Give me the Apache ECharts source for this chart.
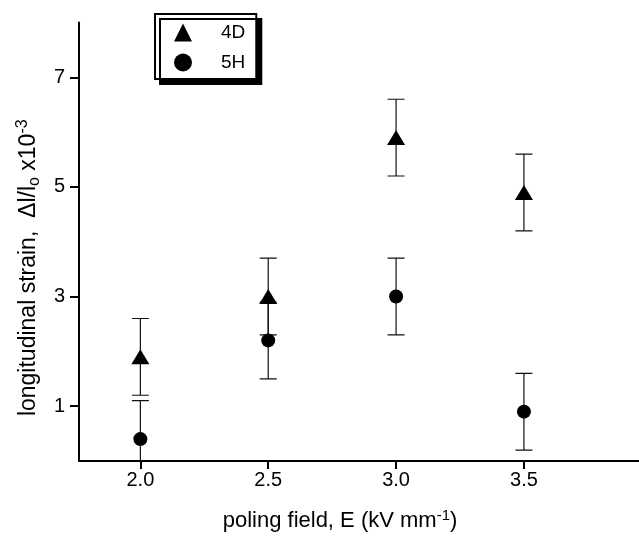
<!DOCTYPE html>
<html>
<head>
<meta charset="utf-8">
<script src="https://cdn.jsdelivr.net/npm/echarts@6/dist/echarts.min.js"></script>
<style>html,body{margin:0;padding:0;background:#fff}#c{width:639px;height:537px}</style>
</head>
<body>
<div id="c"></div>
<script>
const fields = [2.0, 2.5, 3.0, 3.5];
const strain4D = [1.9, 3.0, 5.9, 4.9];
const err4D = [0.7, 0.7, 0.7, 0.7];
const strain5H = [0.4, 2.2, 3.0, 0.9];
const err5H = [0.7, 0.7, 0.7, 0.7];
const xTicks = [2.0, 2.5, 3.0, 3.5];
const yTicks = [1, 3, 5, 7];

const FONT = 'Liberation Sans';
const chart = echarts.init(document.getElementById('c'), null, {renderer: 'canvas'});

function pts(vals) { return fields.map((x, i) => [x, vals[i]]); }
function bars(vals, errs) { return fields.map((x, i) => [x, vals[i] - errs[i], vals[i] + errs[i]]); }

function errRender(params, api) {
  const x = api.value(0), lo = api.value(1), hi = api.value(2);
  const p1 = api.coord([x, hi]), p2 = api.coord([x, lo]);
  const w = 8.5;
  const st = {stroke: '#111', lineWidth: 1.2};
  return {
    type: 'group',
    children: [
      {type: 'line', shape: {x1: p1[0], y1: p1[1], x2: p2[0], y2: p2[1]}, style: st},
      {type: 'line', shape: {x1: p1[0] - w, y1: p1[1], x2: p1[0] + w, y2: p1[1]}, style: st},
      {type: 'line', shape: {x1: p2[0] - w, y1: p2[1], x2: p2[0] + w, y2: p2[1]}, style: st}
    ]
  };
}

const option = {
  animation: false,
  backgroundColor: '#fff',
  grid: {left: 79, right: 0, top: 22.5, bottom: 74.5, containLabel: false},
  legend: {
    data: ['4D', '5H'],
    orient: 'vertical',
    left: 155, top: 14,
    padding: [9, 11, 7, 19],
    itemGap: 11,
    itemWidth: 18, itemHeight: 18,
    backgroundColor: '#fff',
    borderColor: '#000', borderWidth: 2,
    shadowColor: '#000', shadowBlur: 0, shadowOffsetX: 5, shadowOffsetY: 5,
    textStyle: {fontFamily: FONT, fontSize: 19, color: '#000', padding: [0, 0, 0, 24]}
  },
  xAxis: {
    type: 'value', min: 1.76, max: 3.95,
    name: '{n|poling field, E (kV mm}{sup|-1}{n|)}',
    nameLocation: 'middle', nameGap: 47,
    nameTextStyle: {
      padding: [0, 38, 0, 0],
      rich: {
        n: {fontFamily: FONT, fontSize: 22, color: '#000', lineHeight: 26, verticalAlign: 'middle'},
        sup: {fontFamily: FONT, fontSize: 15, color: '#000', lineHeight: 15, verticalAlign: 'top'}
      }
    },
    axisLine: {show: true, onZero: false, lineStyle: {color: '#000', width: 2}},
    axisTick: {show: true, inside: false, length: 8, customValues: xTicks, lineStyle: {color: '#000', width: 2}},
    axisLabel: {customValues: xTicks, margin: 9, fontFamily: FONT, fontSize: 20, color: '#000',
      formatter: v => v.toFixed(1)},
    splitLine: {show: false}
  },
  yAxis: {
    type: 'value', min: 0, max: 8,
    name: '{n|longitudinal strain,  Δl/l}{sub|o}{n| x10}{sup|-3}',
    nameLocation: 'middle', nameGap: 34, nameRotate: 90,
    nameTextStyle: {
      padding: [0, 52, 0, 0],
      rich: {
        n: {fontFamily: FONT, fontSize: 23, color: '#000', lineHeight: 28, verticalAlign: 'middle'},
        sub: {fontFamily: FONT, fontSize: 16, color: '#000', lineHeight: 16, verticalAlign: 'bottom'},
        sup: {fontFamily: FONT, fontSize: 16, color: '#000', lineHeight: 16, verticalAlign: 'top'}
      }
    },
    axisLine: {show: true, onZero: false, lineStyle: {color: '#000', width: 2}},
    axisTick: {show: true, inside: false, length: 9, customValues: yTicks, lineStyle: {color: '#000', width: 2}},
    axisLabel: {customValues: yTicks, margin: 14, fontFamily: FONT, fontSize: 20, color: '#000'},
    splitLine: {show: false}
  },
  series: [
    {name: '4D err', type: 'custom', renderItem: errRender, data: bars(strain4D, err4D),
      encode: {x: 0, y: [1, 2]}, clip: true, z: 2, silent: true},
    {name: '5H err', type: 'custom', renderItem: errRender, data: bars(strain5H, err5H),
      encode: {x: 0, y: [1, 2]}, clip: true, z: 2, silent: true},
    {name: '4D', type: 'scatter', symbol: 'triangle', symbolSize: [18, 15], data: pts(strain4D),
      itemStyle: {color: '#000', opacity: 1}, z: 5},
    {name: '5H', type: 'scatter', symbol: 'circle', symbolSize: 14, data: pts(strain5H),
      itemStyle: {color: '#000', opacity: 1}, z: 5}
  ]
};
chart.setOption(option);
</script>
</body>
</html>
